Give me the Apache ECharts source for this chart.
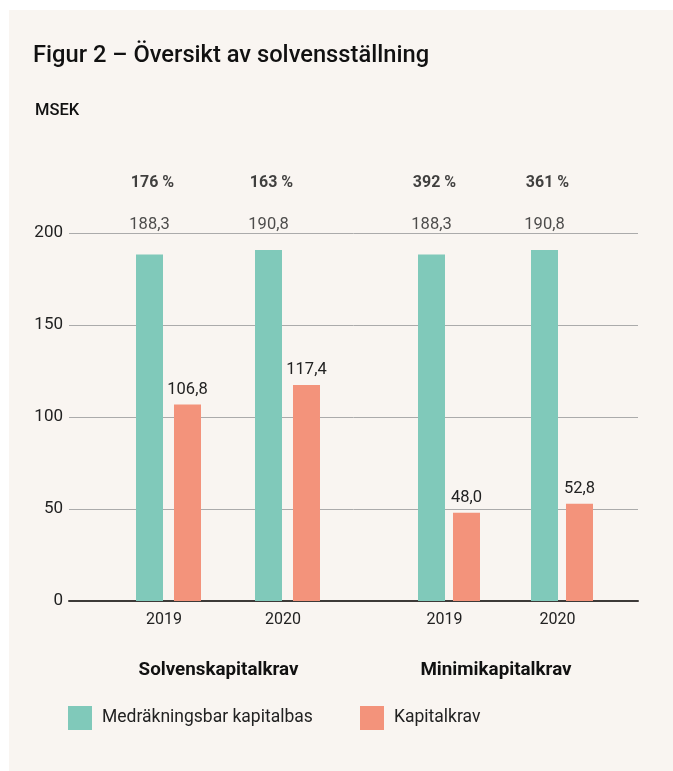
<!DOCTYPE html>
<html>
<head>
<meta charset="utf-8">
<script src="https://cdn.jsdelivr.net/npm/echarts@6/dist/echarts.min.js"></script>
<style>
  html, body { margin: 0; padding: 0; background: #ffffff; }
  #bg { position: absolute; left: 9px; top: 10px; width: 664px; height: 761px; background: #f9f5f1; }
  #c { position: absolute; left: 0; top: 0; width: 673px; height: 771px; }
</style>
</head>
<body>
<div id="bg"></div>
<div id="c"></div>
<script>
// ---- data ----
const years = ['2019', '2020'];
const groupNames = ['Solvenskapitalkrav', 'Minimikapitalkrav'];
const seriesNames = ['Medräkningsbar kapitalbas', 'Kapitalkrav'];
const scrBase = [188.3, 190.8];
const scrReq = [106.8, 117.4];
const mcrBase = [188.3, 190.8];
const mcrReq = [48.0, 52.8];
const scrRatio = ['176 %', '163 %'];
const mcrRatio = ['392 %', '361 %'];
const yTicks = [0, 50, 100, 150, 200];

const yMin = yTicks[0], yMax = yTicks[yTicks.length - 1], yStep = yTicks[1] - yTicks[0];
const TEAL = '#80c9ba', SALMON = '#f3937b';
const FONT = 'Roboto';
const TXT = '#222222';
const fmt = v => v.toFixed(1).replace('.', ',');

const chart = echarts.init(document.getElementById('c'), null, { renderer: 'canvas' });

const TOP = 233, BOTTOM = 170;
const grids = [
  { left: 69, right: 35, top: TOP, bottom: BOTTOM },     // background grid (gridlines, y labels, axis line)
  { left: 109, width: 238, top: TOP, bottom: BOTTOM },   // Solvenskapitalkrav
  { left: 392.5, width: 226, top: TOP, bottom: BOTTOM }  // Minimikapitalkrav
];

function groupXAxis(gi, name) {
  return {
    type: 'category', gridIndex: gi, data: years,
    axisLine: { show: false }, axisTick: { show: false },
    axisLabel: { margin: 11, fontFamily: FONT, fontSize: 16, color: TXT, padding: [0, 9, 0, 0] },
    name: name, nameLocation: 'middle', nameGap: 60,
    nameTextStyle: { fontFamily: FONT, fontSize: 18.8, fontWeight: 'bold', color: '#111', padding: [0, 19, 0, 0] }
  };
}
function hiddenY(gi) {
  return { type: 'value', gridIndex: gi, min: yMin, max: yMax, show: false, splitLine: { show: false } };
}

function groupSeries(gi, base, req, ratio, gapPct, offset) {
  const labelStyle = { fontFamily: FONT, fontSize: 16.5, color: TXT, lineHeight: 18 };
  return [
    {
      type: 'bar', name: seriesNames[0], xAxisIndex: gi, yAxisIndex: gi,
      data: base, barWidth: 27, barGap: gapPct, itemStyle: { color: TEAL }, z: 2
    },
    {
      type: 'bar', name: seriesNames[1], xAxisIndex: gi, yAxisIndex: gi,
      data: req, barWidth: 27, barGap: gapPct, itemStyle: { color: SALMON }, z: 2,
      label: Object.assign({ show: true, position: 'top', distance: 6, formatter: p => fmt(p.value) }, labelStyle)
    },
    {
      // value labels of the capital base, placed on the top line of the plot
      type: 'scatter', xAxisIndex: gi, yAxisIndex: gi, symbolSize: 0, silent: true,
      data: base.map(() => yMax),
      label: Object.assign({ show: true, position: 'top', distance: -1, offset: [offset, 0],
        formatter: p => fmt(base[p.dataIndex]) }, labelStyle)
    },
    {
      // solvency ratio labels
      type: 'scatter', xAxisIndex: gi, yAxisIndex: gi, symbolSize: 0, silent: true,
      data: base.map(() => yMax),
      label: { show: true, position: 'top', distance: 41, offset: [offset + 3, 0],
        formatter: p => ratio[p.dataIndex],
        fontFamily: FONT, fontSize: 16, fontWeight: 'bold', color: '#111', lineHeight: 18 }
    }
  ];
}

const option = {
  backgroundColor: 'transparent',
  animation: false,
  title: [
    { text: 'Figur 2 – Översikt av solvensställning', left: 33, top: 44, padding: 0,
      textStyle: { fontFamily: FONT, fontSize: 23.7, fontWeight: 500, color: '#111' } },
    { text: 'MSEK', left: 35, top: 102, padding: 0,
      textStyle: { fontFamily: FONT, fontSize: 16.5, fontWeight: 500, color: '#111' } }
  ],
  legend: [
    { data: [seriesNames[0]], left: 68, top: 706, padding: 0, itemWidth: 24, itemHeight: 24, icon: 'rect',
      textStyle: { fontFamily: FONT, fontSize: 17.5, color: TXT, padding: [0, 0, 0, 5] } },
    { data: [seriesNames[1]], left: 360, top: 706, padding: 0, itemWidth: 24, itemHeight: 24, icon: 'rect',
      textStyle: { fontFamily: FONT, fontSize: 17.5, color: TXT, padding: [0, 0, 0, 5] } }
  ],
  grid: grids,
  xAxis: [
    { type: 'value', gridIndex: 0, min: 0, max: 1,
      axisLine: { show: true, onZero: false, lineStyle: { color: '#3d3a38', width: 2 } },
      axisTick: { show: false }, axisLabel: { show: false }, splitLine: { show: false } },
    groupXAxis(1, groupNames[0]),
    groupXAxis(2, groupNames[1])
  ],
  yAxis: [
    { type: 'value', gridIndex: 0, min: yMin, max: yMax, interval: yStep,
      axisLine: { show: false }, axisTick: { show: false },
      axisLabel: { margin: 6, fontFamily: FONT, fontSize: 17, color: TXT },
      splitLine: { show: true, lineStyle: { color: '#ababab', width: 1 } } },
    hiddenY(1),
    hiddenY(2)
  ],
  series: [
    ...groupSeries(1, scrBase, scrReq, scrRatio, '40.7%', -19),
    ...groupSeries(2, mcrBase, mcrReq, mcrRatio, '29.6%', -17.5)
  ]
};

chart.setOption(option);
</script>
</body>
</html>
